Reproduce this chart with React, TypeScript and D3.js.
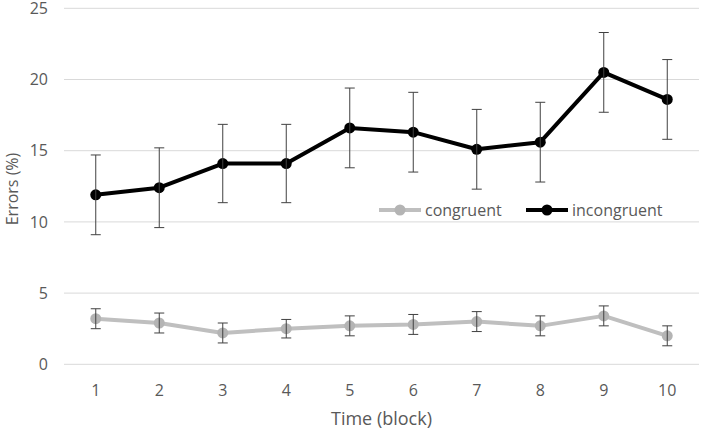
import React, { useRef, useEffect } from "react";
import * as d3 from "d3";

// chart values
const blocks = ["1", "2", "3", "4", "5", "6", "7", "8", "9", "10"];
const congruent = [3.2, 2.9, 2.2, 2.5, 2.7, 2.8, 3.0, 2.7, 3.4, 2.0];
const congruentErr = [0.7, 0.7, 0.7, 0.65, 0.7, 0.7, 0.7, 0.7, 0.7, 0.7];
const incongruent = [11.9, 12.4, 14.1, 14.1, 16.6, 16.3, 15.1, 15.6, 20.5, 18.6];
const incongruentErr = [2.8, 2.8, 2.75, 2.75, 2.8, 2.8, 2.8, 2.8, 2.8, 2.8];
const yTicks = [0, 5, 10, 15, 20, 25];

const width = 701;
const height = 432;
const font = "'Segoe UI', 'Open Sans', sans-serif";
const textColor = "#595959";

export default function App() {
    const svgRef = useRef<SVGSVGElement | null>(null);

    useEffect(() => {
        if (!svgRef.current) return;
        const svg = d3.select(svgRef.current);
        svg.selectAll("*").remove();

        const x = d3.scaleBand<string>().domain(blocks).range([64, 699]);
        const cx = (d: string) => (x(d) ?? 0) + x.bandwidth() / 2;
        const y = d3.scaleLinear().domain([0, 25]).range([364.3, 8.3]);

        // gridlines
        svg.append("g")
            .selectAll("line")
            .data(yTicks)
            .enter()
            .append("line")
            .attr("x1", 64)
            .attr("x2", 699)
            .attr("y1", (d) => y(d))
            .attr("y2", (d) => y(d))
            .attr("stroke", "#d9d9d9")
            .attr("stroke-width", 1);

        // y tick labels
        svg.append("g")
            .selectAll("text")
            .data(yTicks)
            .enter()
            .append("text")
            .attr("x", 48)
            .attr("y", (d) => y(d))
            .attr("dy", "0.36em")
            .attr("text-anchor", "end")
            .style("font-family", font)
            .style("font-size", "16px")
            .style("fill", textColor)
            .text((d) => String(d));

        // x tick labels
        svg.append("g")
            .selectAll("text")
            .data(blocks)
            .enter()
            .append("text")
            .attr("x", (d) => cx(d))
            .attr("y", 396)
            .attr("text-anchor", "middle")
            .style("font-family", font)
            .style("font-size", "16px")
            .style("fill", textColor)
            .text((d) => d);

        // axis titles
        svg.append("text")
            .attr("x", 381.5)
            .attr("y", 425)
            .attr("text-anchor", "middle")
            .style("font-family", font)
            .style("font-size", "18px")
            .style("fill", textColor)
            .text("Time (block)");

        svg.append("text")
            .attr("transform", "translate(18, 189) rotate(-90)")
            .attr("text-anchor", "middle")
            .style("font-family", font)
            .style("font-size", "16px")
            .style("fill", textColor)
            .text("Errors (%)");

        const series = [
            { name: "congruent", values: congruent, err: congruentErr, color: "#bfbfbf", marker: "#b4b4b4" },
            { name: "incongruent", values: incongruent, err: incongruentErr, color: "#000000", marker: "#000000" },
        ];

        const line = d3
            .line<number>()
            .x((_, i) => cx(blocks[i]))
            .y((d) => y(d));

        series.forEach((s) => {
            const g = svg.append("g");

            g.append("path")
                .datum(s.values)
                .attr("d", line)
                .attr("fill", "none")
                .attr("stroke", s.color)
                .attr("stroke-width", 4)
                .attr("stroke-linejoin", "round");

            g.selectAll("circle")
                .data(s.values)
                .enter()
                .append("circle")
                .attr("cx", (_, i) => cx(blocks[i]))
                .attr("cy", (d) => y(d))
                .attr("r", 5.5)
                .attr("fill", s.marker);

            // error bars drawn on top
            const eb = g
                .selectAll("g.err")
                .data(s.values)
                .enter()
                .append("g")
                .attr("stroke", "#404040")
                .attr("stroke-width", 1);
            eb.append("line")
                .attr("x1", (_, i) => cx(blocks[i]))
                .attr("x2", (_, i) => cx(blocks[i]))
                .attr("y1", (d, i) => y(d + s.err[i]))
                .attr("y2", (d, i) => y(d - s.err[i]));
            eb.append("line")
                .attr("x1", (_, i) => cx(blocks[i]) - 5)
                .attr("x2", (_, i) => cx(blocks[i]) + 5)
                .attr("y1", (d, i) => y(d + s.err[i]))
                .attr("y2", (d, i) => y(d + s.err[i]));
            eb.append("line")
                .attr("x1", (_, i) => cx(blocks[i]) - 5)
                .attr("x2", (_, i) => cx(blocks[i]) + 5)
                .attr("y1", (d, i) => y(d - s.err[i]))
                .attr("y2", (d, i) => y(d - s.err[i]));
        });

        // legend
        const legendX = [379, 526];
        const ly = 210;
        series.forEach((s, i) => {
            const lg = svg.append("g").attr("transform", `translate(${legendX[i]}, ${ly})`);
            lg.append("rect").attr("x", -4).attr("y", -10).attr("width", s.name.length * 8.5 + 54).attr("height", 20).attr("fill", "#fff");
            lg.append("line")
                .attr("x1", 0)
                .attr("x2", 42)
                .attr("stroke", s.color)
                .attr("stroke-width", 4);
            lg.append("circle").attr("cx", 21).attr("r", 5.5).attr("fill", s.marker);
            lg.append("text")
                .attr("x", 46)
                .attr("dy", "0.35em")
                .style("font-family", font)
                .style("font-size", "16px")
                .style("fill", textColor)
                .text(s.name);
        });
    }, []);

    return (
        <div style={{ width, height }}>
            <svg ref={svgRef} width={width} height={height} style={{ position: "absolute", left: 0, top: 0, background: "#fff" }} />
        </div>
    );
}
